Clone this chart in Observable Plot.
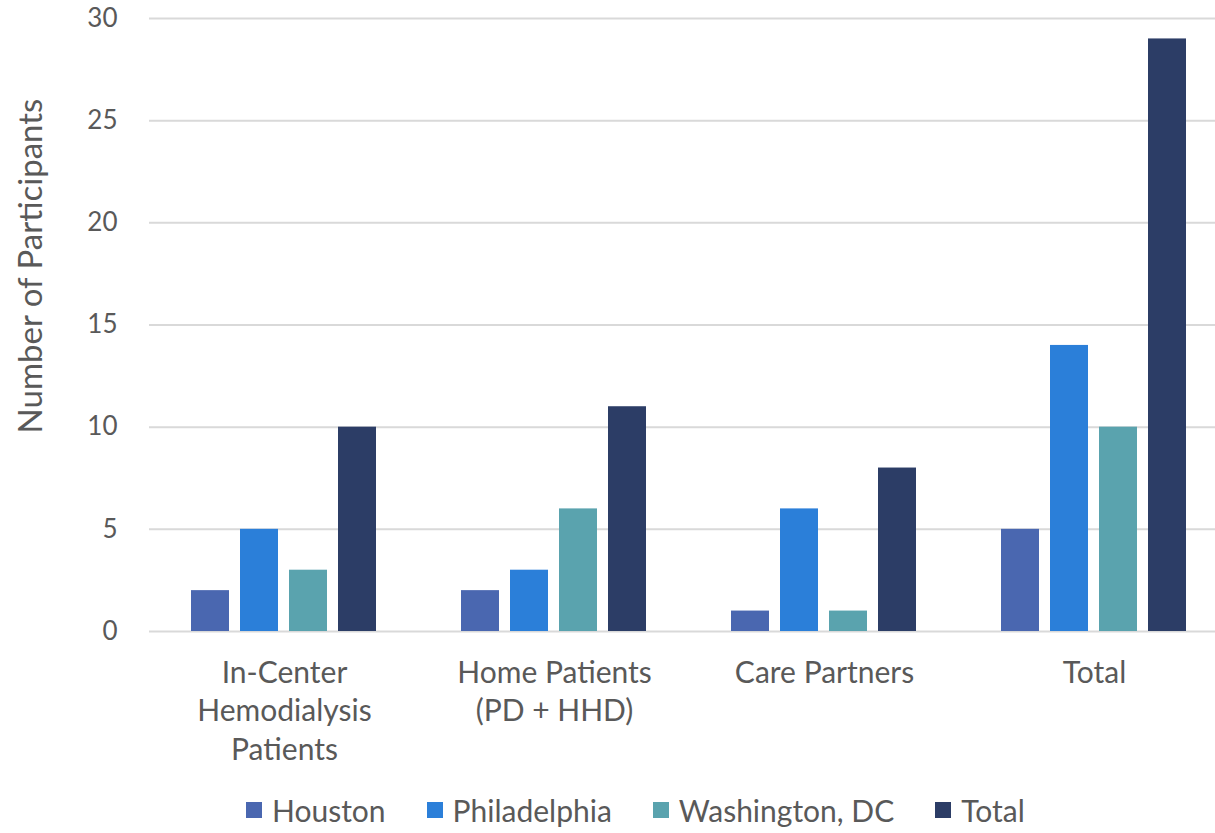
<!DOCTYPE html>
<html>
<head>
<meta charset="utf-8">
<script src="https://cdn.jsdelivr.net/npm/d3@7"></script>
<script src="https://cdn.jsdelivr.net/npm/@observablehq/plot@0.6"></script>
<style>
  html, body { margin: 0; padding: 0; background: #fff; overflow: hidden; width: 1215px; height: 833px; }
  #chart { position: relative; width: 1215px; height: 833px; overflow: hidden; font-family: Lato, "Open Sans", sans-serif; }
  #chart svg { max-width: none !important; }
  #legend { position: absolute; left: 246px; top: 792px; display: flex; align-items: center; font-size: 30px; color: #595959; white-space: nowrap; }
  .item { display: flex; align-items: center; margin-right: 41px; }
  .sw { width: 16px; height: 16px; margin-right: 10px; }
</style>
</head>
<body>
<div id="chart"></div>
<script>
const categories = ["In-Center\nHemodialysis\nPatients", "Home Patients\n(PD + HHD)", "Care Partners", "Total"];
const seriesNames = ["Houston", "Philadelphia", "Washington, DC", "Total"];
const houston = [2, 2, 1, 5];
const philadelphia = [5, 3, 6, 14];
const washington = [3, 6, 1, 10];
const total = [10, 11, 8, 29];
const colors = ["#4A67B0", "#2B7FD9", "#5AA3AE", "#2C3D66"];
const yTicks = [0, 5, 10, 15, 20, 25, 30];
const yTitle = "Number of Participants";

const seriesValues = [houston, philadelphia, washington, total];
const data = [];
categories.forEach((c, i) => {
  seriesNames.forEach((s, j) => data.push({category: c, series: s, value: seriesValues[j][i]}));
});

const plot = Plot.plot({
  width: 1229,
  height: 780,
  marginTop: 18,
  marginBottom: 149,
  marginLeft: 149,
  marginRight: 0,
  style: {fontFamily: "Lato, 'Open Sans', sans-serif", color: "#595959", background: "transparent", maxWidth: "none"},
  fx: {domain: categories, padding: 0, label: null},
  x: {domain: seriesNames, paddingInner: 0.224, paddingOuter: 0.867, axis: null},
  y: {domain: [0, 30], label: null},
  color: {domain: seriesNames, range: colors},
  marks: [
    Plot.gridY(yTicks, {stroke: "#D9D9D9", strokeOpacity: 1, strokeWidth: 2}),
    Plot.barY(data, {fx: "category", x: "series", y: "value", fill: "series"}),
    Plot.axisY(yTicks, {tickSize: 0, tickPadding: 32, fontSize: 26, fill: "#595959", label: null}),
    Plot.axisFx({anchor: "bottom", tickSize: 0, tickPadding: 24, fontSize: 30, lineHeight: 1.28, fill: "#595959", label: null}),
    Plot.text([yTitle], {frameAnchor: "left", textAnchor: "middle", rotate: -90, dx: -118, dy: -59, fontSize: 33, fill: "#595959", facetAnchor: "left"})
  ]
});
document.getElementById("chart").appendChild(plot);

const legend = document.createElement("div");
legend.id = "legend";
seriesNames.forEach((s, i) => {
  const it = document.createElement("div");
  it.className = "item";
  const sw = document.createElement("div");
  sw.className = "sw";
  sw.style.background = colors[i];
  const t = document.createElement("span");
  t.textContent = s;
  it.appendChild(sw); it.appendChild(t);
  legend.appendChild(it);
});
document.getElementById("chart").appendChild(legend);
</script>
</body>
</html>
